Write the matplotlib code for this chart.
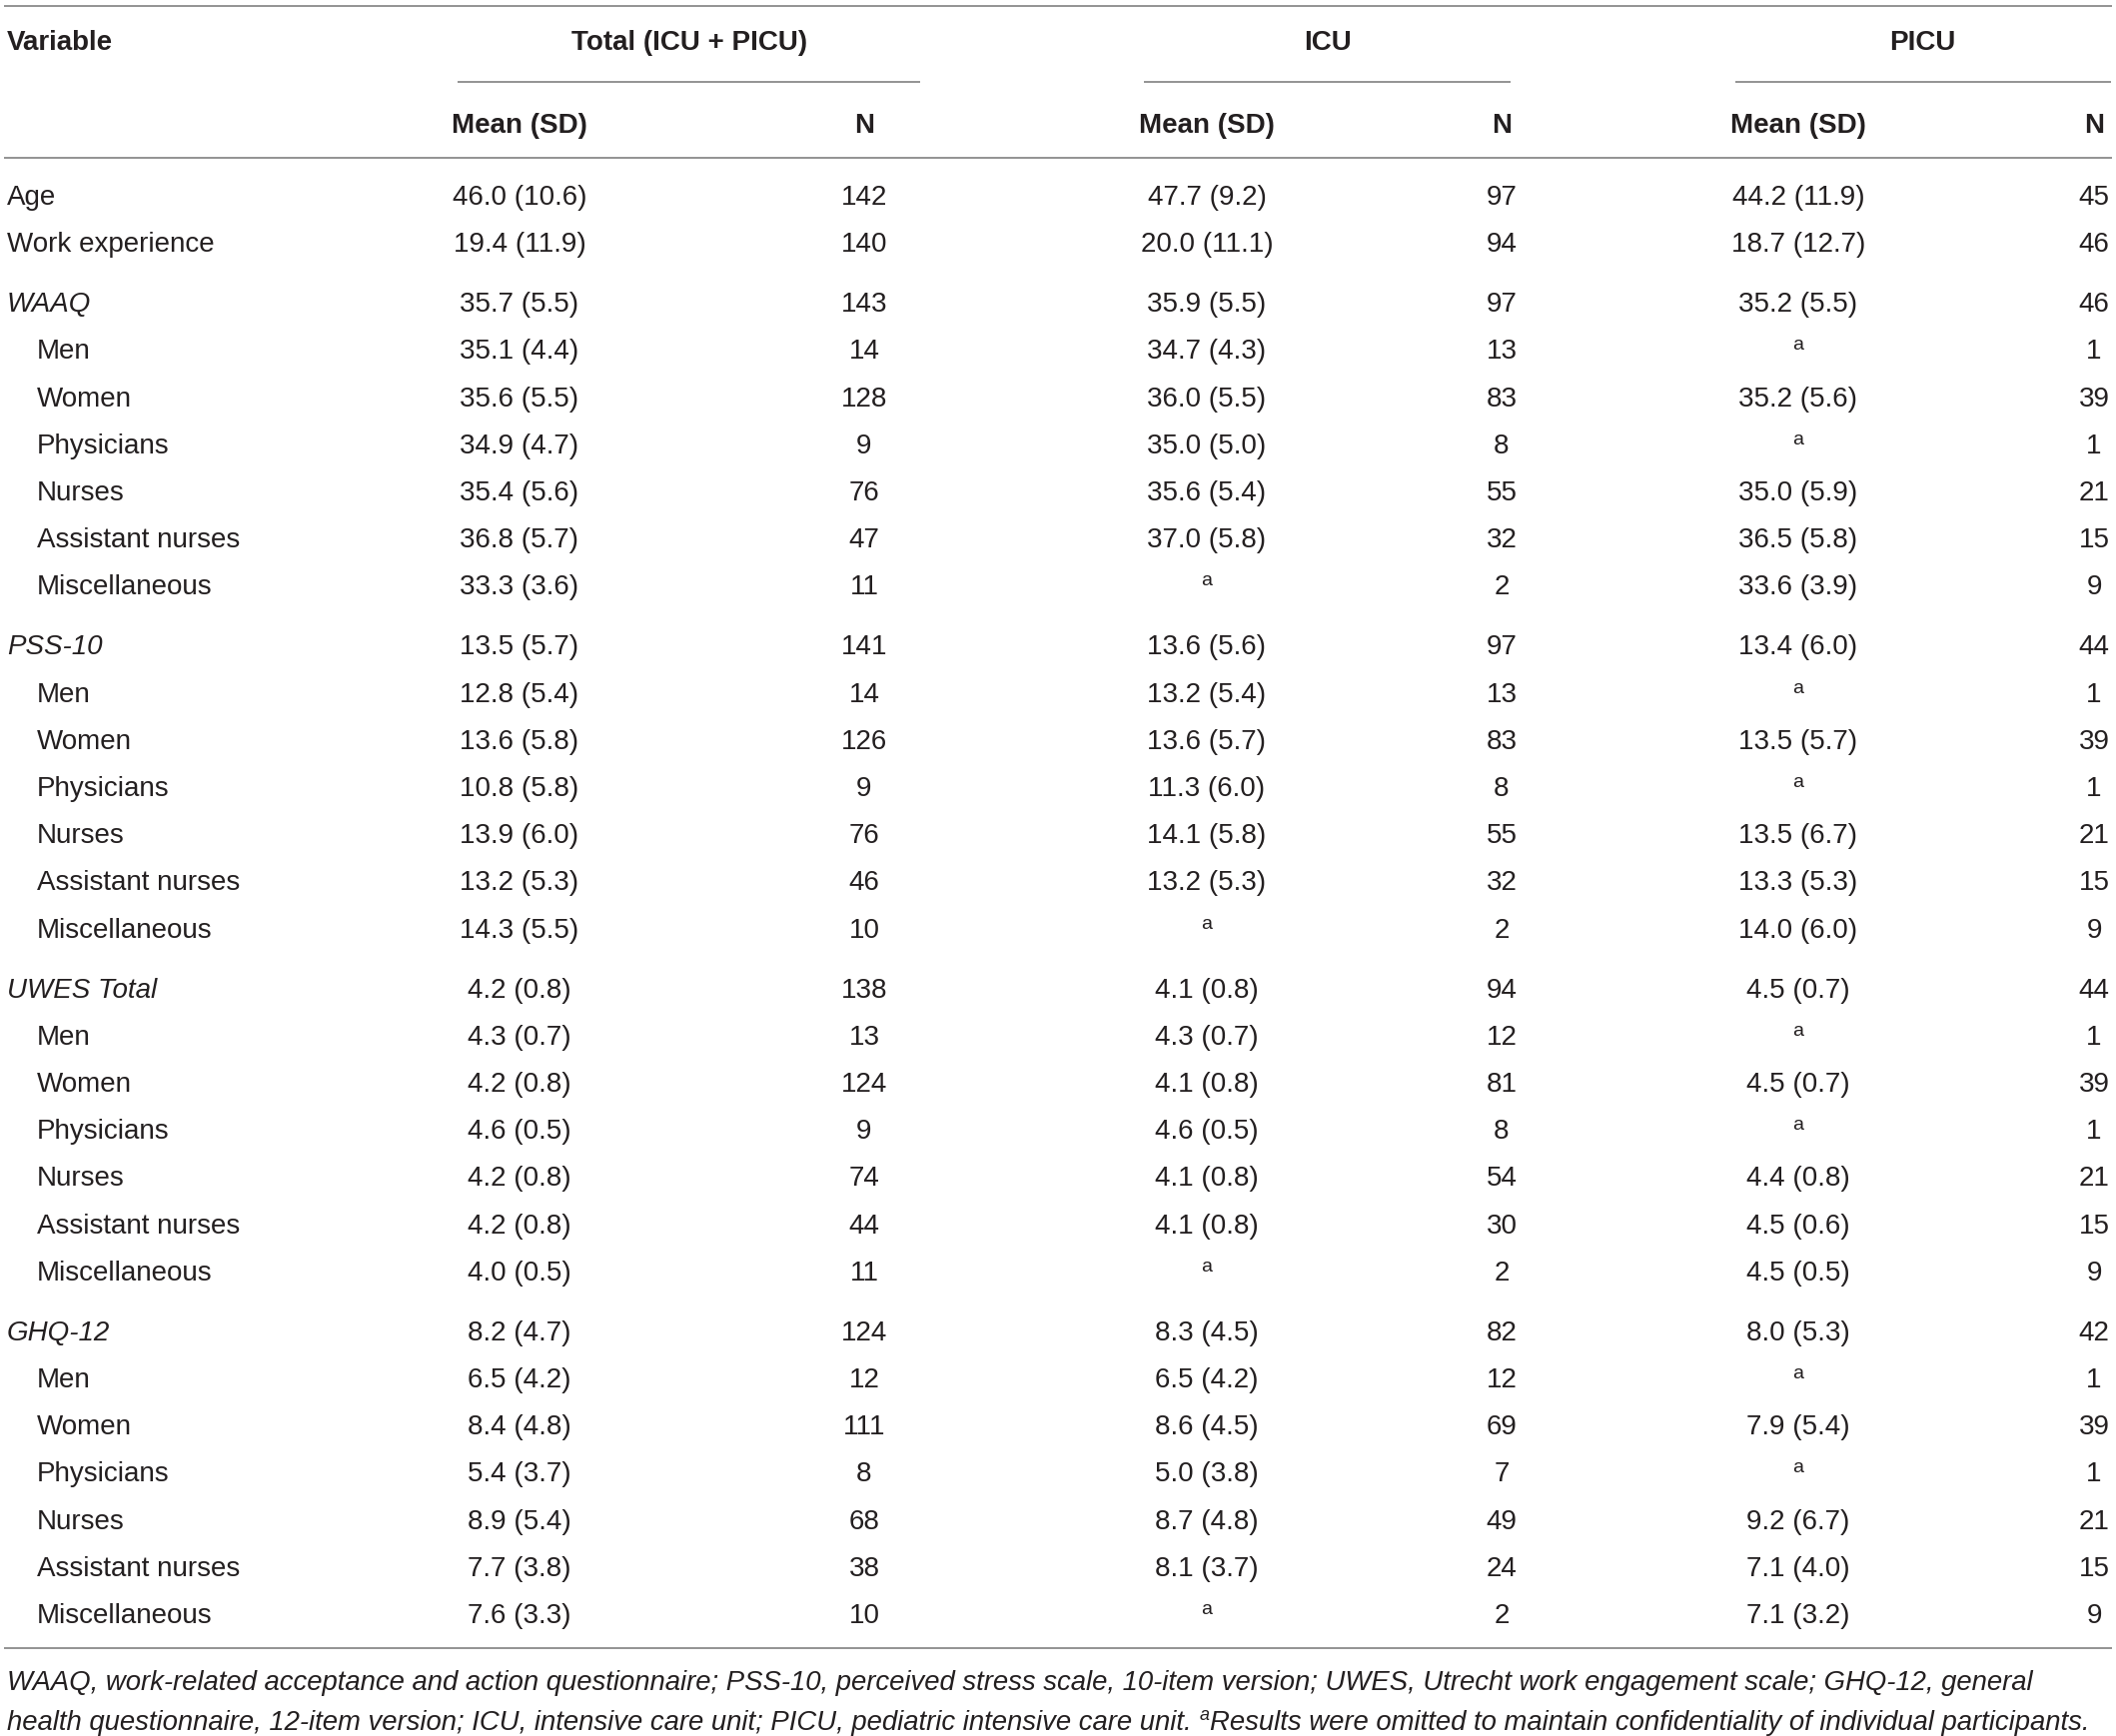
import matplotlib
matplotlib.use("Agg")
import matplotlib.pyplot as plt

plt.rcParams['font.family'] = ['Liberation Sans', 'DejaVu Sans']

# ---------------- data ----------------
row_labels = ["Age", "Work experience",
              "WAAQ", "Men", "Women", "Physicians", "Nurses", "Assistant nurses", "Miscellaneous",
              "PSS-10", "Men", "Women", "Physicians", "Nurses", "Assistant nurses", "Miscellaneous",
              "UWES Total", "Men", "Women", "Physicians", "Nurses", "Assistant nurses", "Miscellaneous",
              "GHQ-12", "Men", "Women", "Physicians", "Nurses", "Assistant nurses", "Miscellaneous"]
# 0 = plain, 1 = scale (italic, section start), 2 = subgroup (indented)
row_level = [0, 0,
             1, 2, 2, 2, 2, 2, 2,
             1, 2, 2, 2, 2, 2, 2,
             1, 2, 2, 2, 2, 2, 2,
             1, 2, 2, 2, 2, 2, 2]

total_mean = [46.0, 19.4, 35.7, 35.1, 35.6, 34.9, 35.4, 36.8, 33.3,
              13.5, 12.8, 13.6, 10.8, 13.9, 13.2, 14.3,
              4.2, 4.3, 4.2, 4.6, 4.2, 4.2, 4.0,
              8.2, 6.5, 8.4, 5.4, 8.9, 7.7, 7.6]
total_sd = [10.6, 11.9, 5.5, 4.4, 5.5, 4.7, 5.6, 5.7, 3.6,
            5.7, 5.4, 5.8, 5.8, 6.0, 5.3, 5.5,
            0.8, 0.7, 0.8, 0.5, 0.8, 0.8, 0.5,
            4.7, 4.2, 4.8, 3.7, 5.4, 3.8, 3.3]
total_n = [142, 140, 143, 14, 128, 9, 76, 47, 11,
           141, 14, 126, 9, 76, 46, 10,
           138, 13, 124, 9, 74, 44, 11,
           124, 12, 111, 8, 68, 38, 10]

icu_mean = [47.7, 20.0, 35.9, 34.7, 36.0, 35.0, 35.6, 37.0, None,
            13.6, 13.2, 13.6, 11.3, 14.1, 13.2, None,
            4.1, 4.3, 4.1, 4.6, 4.1, 4.1, None,
            8.3, 6.5, 8.6, 5.0, 8.7, 8.1, None]
icu_sd = [9.2, 11.1, 5.5, 4.3, 5.5, 5.0, 5.4, 5.8, None,
          5.6, 5.4, 5.7, 6.0, 5.8, 5.3, None,
          0.8, 0.7, 0.8, 0.5, 0.8, 0.8, None,
          4.5, 4.2, 4.5, 3.8, 4.8, 3.7, None]
icu_n = [97, 94, 97, 13, 83, 8, 55, 32, 2,
         97, 13, 83, 8, 55, 32, 2,
         94, 12, 81, 8, 54, 30, 2,
         82, 12, 69, 7, 49, 24, 2]

picu_mean = [44.2, 18.7, 35.2, None, 35.2, None, 35.0, 36.5, 33.6,
             13.4, None, 13.5, None, 13.5, 13.3, 14.0,
             4.5, None, 4.5, None, 4.4, 4.5, 4.5,
             8.0, None, 7.9, None, 9.2, 7.1, 7.1]
picu_sd = [11.9, 12.7, 5.5, None, 5.6, None, 5.9, 5.8, 3.9,
           6.0, None, 5.7, None, 6.7, 5.3, 6.0,
           0.7, None, 0.7, None, 0.8, 0.6, 0.5,
           5.3, None, 5.4, None, 6.7, 4.0, 3.2]
picu_n = [45, 46, 46, 1, 39, 1, 21, 15, 9,
          44, 1, 39, 1, 21, 15, 9,
          44, 1, 39, 1, 21, 15, 9,
          42, 1, 39, 1, 21, 15, 9]

group_titles = ["Total (ICU + PICU)", "ICU", "PICU"]
sub_titles = ["Mean (SD)", "N"]
footnote_1 = ("WAAQ, work-related acceptance and action questionnaire; PSS-10, perceived stress scale, "
              "10-item version; UWES, Utrecht work engagement scale; GHQ-12, general")
footnote_2a = "health questionnaire, 12-item version; ICU, intensive care unit; PICU, pediatric intensive care unit. "
footnote_sup = "a"
footnote_2b = "Results were omitted to maintain confidentiality of individual participants."

# ---------------- layout ----------------
W, H = 2118, 1738
TXT = '#231f20'
LINE = '#8a8a8a'
FS = 20

fig = plt.figure(figsize=(W / 100, H / 100), dpi=100)
ax = fig.add_axes([0, 0, 1, 1])
ax.set_xlim(0, W)
ax.set_ylim(H, 0)
ax.axis('off')

mean_x = [520, 1208, 1800]
n_x = [865, 1503, 2096]
group_x = [690, 1329, 1924]
sub_line = [(458, 921), (1145, 1512), (1737, 2113)]

def hline(y, x0=4, x1=2114):
    ax.plot([x0, x1], [y, y], color=LINE, lw=1.3, solid_capstyle='butt')

hline(6)
hline(158)
for (a, b) in sub_line:
    hline(82, a, b)

ax.text(7, 50, "Variable", fontsize=FS, fontweight='bold', color=TXT, ha='left', va='baseline')
for gx, title in zip(group_x, group_titles):
    ax.text(gx, 50, title, fontsize=FS, fontweight='bold', color=TXT, ha='center', va='baseline')
for mx, nx in zip(mean_x, n_x):
    ax.text(mx, 133, sub_titles[0], fontsize=FS, fontweight='bold', color=TXT, ha='center', va='baseline')
    ax.text(nx, 133, sub_titles[1], fontsize=FS, fontweight='bold', color=TXT, ha='center', va='baseline')

# body rows
step, sec_gap = 47.2, 12.8
y = 205.0
means = [total_mean, icu_mean, picu_mean]
sds = [total_sd, icu_sd, picu_sd]
ns = [total_n, icu_n, picu_n]
for i, label in enumerate(row_labels):
    if i > 0:
        y += step
        if row_level[i] == 1:
            y += sec_gap
    lvl = row_level[i]
    ax.text(37 if lvl == 2 else 7, y, label, fontsize=FS, color=TXT,
            fontstyle='italic' if lvl == 1 else 'normal', ha='left', va='baseline')
    for g in range(3):
        m, s, n = means[g][i], sds[g][i], ns[g][i]
        if m is None:
            ax.text(mean_x[g], y - 9, "a", fontsize=14, color=TXT, ha='center', va='baseline')
        else:
            ax.text(mean_x[g], y, f"{m:.1f} ({s:.1f})", fontsize=FS, color=TXT, ha='center', va='baseline')
        ax.text(n_x[g], y, f"{n}", fontsize=FS, color=TXT, ha='center', va='baseline')

hline(1650)

# footnote: size chosen so both lines fit the table width
renderer = fig.canvas.get_renderer()
t1 = ax.text(7, 1692, footnote_1, fontsize=FS, color=TXT, fontstyle='italic', ha='left', va='baseline')
w1 = t1.get_window_extent(renderer).width
t2 = ax.text(7, 1732, footnote_2a, fontsize=FS, color=TXT, fontstyle='italic', ha='left', va='baseline')
t3 = ax.text(0, 1732 - 10, footnote_sup, fontsize=FS * 0.65, color=TXT, fontstyle='italic',
             ha='left', va='baseline')
t4 = ax.text(0, 1732, footnote_2b, fontsize=FS, color=TXT, fontstyle='italic', ha='left', va='baseline')
w2 = (t2.get_window_extent(renderer).width + t3.get_window_extent(renderer).width
      + t4.get_window_extent(renderer).width + 1)
scale = min(2100 / w1, 2085 / w2)
fs_fn = FS * scale
for t in (t1, t2, t4):
    t.set_fontsize(fs_fn)
t3.set_fontsize(fs_fn * 0.65)
xs = 7 + t2.get_window_extent(renderer).width
t3.set_x(xs)
t4.set_x(xs + t3.get_window_extent(renderer).width + 1)

fig.savefig("out.png", dpi=100)
